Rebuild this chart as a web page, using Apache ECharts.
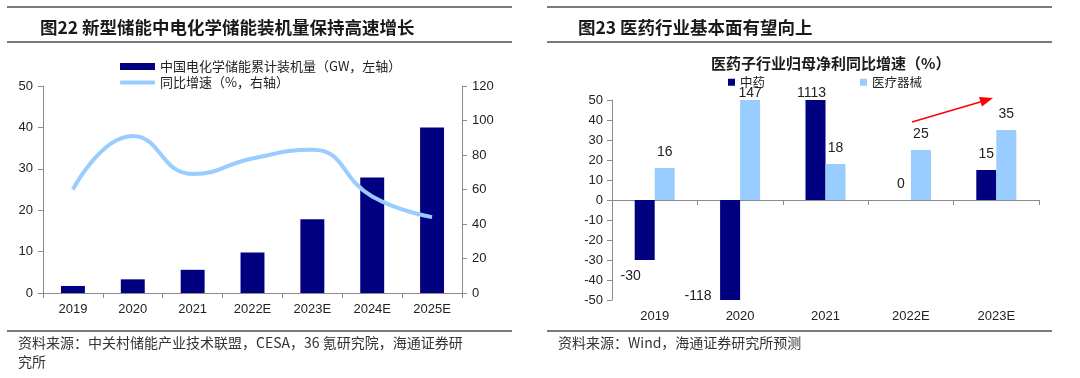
<!DOCTYPE html>
<html>
<head>
<meta charset="utf-8">
<script src="https://cdn.jsdelivr.net/npm/echarts@6/dist/echarts.min.js"></script>
<style>
html,body{margin:0;padding:0;background:#fff;}
#c{width:1080px;height:378px;}
</style>
</head>
<body>
<div id="c"></div>
<script>
// ---- data ----
const leftCategories = ['2019', '2020', '2021', '2022E', '2023E', '2024E', '2025E'];
const installedGW = [1.7, 3.3, 5.6, 9.8, 17.8, 27.9, 40];
const growthPct = [60, 91, 69, 78, 83, 56, 44];
const leftAxisTicks = [0, 10, 20, 30, 40, 50];
const rightAxisTicks = [0, 20, 40, 60, 80, 100, 120];

const rightCategories = ['2019', '2020', '2021', '2022E', '2023E'];
const tcmGrowth = [-30, -118, 1113, 0, 15];
const deviceGrowth = [16, 147, 18, 25, 35];
const rightAxisTicksR = [-50, -40, -30, -20, -10, 0, 10, 20, 30, 40, 50];

const leftTitle = '图22 新型储能中电化学储能装机量保持高速增长';
const rightTitle = '图23 医药行业基本面有望向上';
const rightSubtitle = '医药子行业归母净利同比增速（%）';
const nameBar = '中国电化学储能累计装机量（GW，左轴）';
const nameLine = '同比增速（%，右轴）';
const nameTcm = '中药';
const nameDevice = '医疗器械';
const leftSource = '资料来源：中关村储能产业技术联盟，CESA，36 氪研究院，海通证券研\n究所';
const rightSource = '资料来源：Wind，海通证券研究所预测';

// ---- styles ----
const NAVY = '#000080';
const LIGHT = '#99CCFF';
const AXIS = '#8c8c8c';
const TXT = '#222';
const CJK = '"Noto Sans CJK SC", "Liberation Sans", sans-serif';
const NUM = '"Liberation Sans", Arial, sans-serif';

// per-item label tweaks (styling only)
const tcmLabelStyle = [
  {position: 'bottom', distance: 9, offset: [-14, 0]},
  {position: 'bottom', distance: 9, offset: [-32, -20]},
  {position: 'top', distance: 0, offset: [-4, 0]},
  {position: 'top', distance: 9, offset: [0, 0]},
  {position: 'top', distance: 9, offset: [0, 0]}
];
const deviceLabelStyle = [
  {position: 'top', distance: 9},
  {position: 'top', distance: 0},
  {position: 'top', distance: 9},
  {position: 'top', distance: 9},
  {position: 'top', distance: 9}
];

const tcmData = tcmGrowth.map((v, i) => ({value: v, label: tcmLabelStyle[i]}));
const deviceData = deviceGrowth.map((v, i) => ({value: v, label: deviceLabelStyle[i]}));

const axisLabel = {color: TXT, fontFamily: NUM, fontSize: 13};

const chart = echarts.init(document.getElementById('c'), null, {renderer: 'canvas'});

const hline = (x1, x2, y) => ({
  type: 'line', shape: {x1: x1, y1: y, x2: x2, y2: y},
  style: {stroke: '#7a7a7a', lineWidth: 2}, silent: true
});

const option = {
  backgroundColor: '#fff',
  animation: false,
  title: [
    {text: leftTitle, left: 35, top: 14, textStyle: {fontFamily: CJK, fontSize: 17.5, fontWeight: 'bold', color: '#1a1a1a'}},
    {text: rightTitle, left: 573, top: 14, textStyle: {fontFamily: CJK, fontSize: 17.5, fontWeight: 'bold', color: '#1a1a1a'}},
    {text: rightSubtitle, left: 706, top: 51, textStyle: {fontFamily: CJK, fontSize: 15, fontWeight: 'bold', color: '#1a1a1a'}}
  ],
  legend: [
    {data: [nameBar], left: 115, top: 55, itemWidth: 35, itemHeight: 7, itemGap: 0,
     textStyle: {fontFamily: CJK, fontSize: 13, color: TXT}, icon: 'rect'},
    {data: [{name: nameLine, icon: 'roundRect'}], left: 115, top: 71, itemWidth: 35, itemHeight: 4, itemGap: 0,
     textStyle: {fontFamily: CJK, fontSize: 13, color: TXT}},
    {data: [nameTcm], left: 723, top: 71, itemWidth: 7, itemHeight: 7, icon: 'rect',
     textStyle: {fontFamily: CJK, fontSize: 12.5, color: TXT}},
    {data: [nameDevice], left: 855, top: 71, itemWidth: 7, itemHeight: 7, icon: 'rect',
     textStyle: {fontFamily: CJK, fontSize: 12.5, color: TXT}}
  ],
  grid: [
    {left: 43, right: 618, top: 86, bottom: 85},
    {left: 612, right: 41, top: 100, bottom: 78}
  ],
  xAxis: [
    {type: 'category', gridIndex: 0, data: leftCategories,
     axisLine: {lineStyle: {color: AXIS, width: 1}},
     axisTick: {show: true, alignWithLabel: false, length: 5, lineStyle: {color: AXIS}},
     axisLabel: Object.assign({margin: 10}, axisLabel)},
    {type: 'category', gridIndex: 1, data: rightCategories,
     axisLine: {onZero: true, lineStyle: {color: AXIS, width: 1}},
     axisTick: {show: true, length: 5, lineStyle: {color: AXIS}},
     axisLabel: {show: false}},
    {type: 'category', gridIndex: 1, data: rightCategories, position: 'bottom',
     axisLine: {show: false, onZero: false}, axisTick: {show: false},
     axisLabel: Object.assign({margin: 10}, axisLabel)}
  ],
  yAxis: [
    {type: 'value', gridIndex: 0, min: leftAxisTicks[0], max: leftAxisTicks[leftAxisTicks.length - 1], interval: leftAxisTicks[1] - leftAxisTicks[0],
     axisLine: {show: true, lineStyle: {color: AXIS}},
     axisTick: {show: true, length: 5, lineStyle: {color: AXIS}},
     splitLine: {show: false},
     axisLabel: Object.assign({margin: 10}, axisLabel)},
    {type: 'value', gridIndex: 0, position: 'right', min: rightAxisTicks[0], max: rightAxisTicks[rightAxisTicks.length - 1], interval: rightAxisTicks[1] - rightAxisTicks[0],
     axisLine: {show: true, lineStyle: {color: AXIS}},
     axisTick: {show: true, length: 5, lineStyle: {color: AXIS}},
     splitLine: {show: false},
     axisLabel: Object.assign({margin: 10}, axisLabel)},
    {type: 'value', gridIndex: 1, min: rightAxisTicksR[0], max: rightAxisTicksR[rightAxisTicksR.length - 1], interval: rightAxisTicksR[1] - rightAxisTicksR[0],
     axisLine: {show: true, lineStyle: {color: AXIS}},
     axisTick: {show: true, length: 5, lineStyle: {color: AXIS}},
     splitLine: {show: false},
     axisLabel: Object.assign({margin: 9}, axisLabel)}
  ],
  series: [
    {name: nameBar, type: 'bar', xAxisIndex: 0, yAxisIndex: 0, data: installedGW,
     barWidth: '40%', itemStyle: {color: NAVY}, z: 2},
    {name: nameLine, type: 'line', xAxisIndex: 0, yAxisIndex: 1, data: growthPct,
     smooth: 0.5, symbol: 'none', lineStyle: {color: LIGHT, width: 4}, itemStyle: {color: LIGHT}, z: 5},
    {name: nameTcm, type: 'bar', xAxisIndex: 1, yAxisIndex: 2, data: tcmData,
     barWidth: 20, barGap: '0%', itemStyle: {color: NAVY},
     label: {show: true, color: TXT, fontFamily: NUM, fontSize: 14}},
    {name: nameDevice, type: 'bar', xAxisIndex: 1, yAxisIndex: 2, data: deviceData,
     barWidth: 20, barGap: '0%', itemStyle: {color: LIGHT},
     label: {show: true, color: TXT, fontFamily: NUM, fontSize: 14}}
  ],
  graphic: [
    hline(7, 512, 7), hline(7, 512, 42), hline(7, 512, 331),
    hline(547, 1052, 7), hline(547, 1052, 42), hline(547, 1052, 331),
    {type: 'text', left: 18, top: 333, silent: true,
     style: {text: leftSource, font: '14px ' + CJK, fill: '#333', lineHeight: 19}},
    {type: 'text', left: 558, top: 333, silent: true,
     style: {text: rightSource, font: '14px ' + CJK, fill: '#333', lineHeight: 19}},
    {type: 'line', shape: {x1: 912, y1: 122, x2: 981, y2: 101.7}, style: {stroke: '#ff0000', lineWidth: 1.5}, silent: true},
    {type: 'polygon', shape: {points: [[993, 98], [982, 106.5], [979, 96.9]]}, style: {fill: '#ff0000'}, silent: true}
  ]
};
chart.setOption(option);
</script>
</body>
</html>
